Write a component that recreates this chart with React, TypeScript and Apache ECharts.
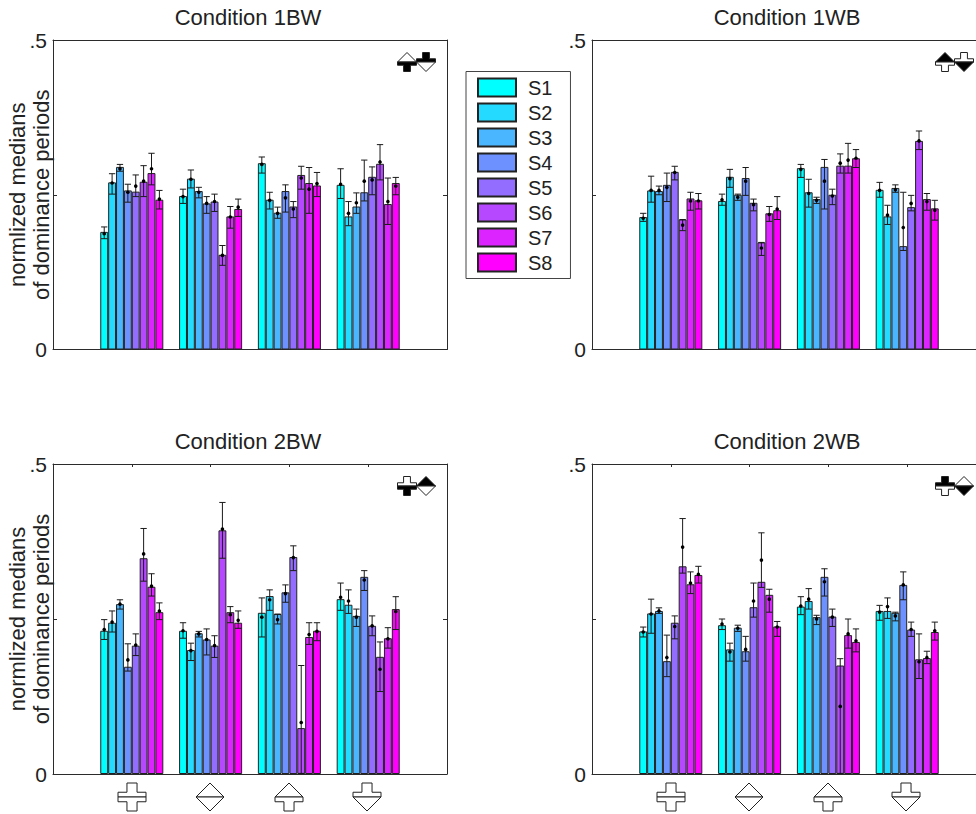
import React, { useEffect, useRef } from "react";
import * as echarts from "echarts";

const subjects = ["S1", "S2", "S3", "S4", "S5", "S6", "S7", "S8"];
const subjectColors = ["#00FFFF", "#24DBFF", "#49B6FF", "#6D92FF", "#926DFF", "#B649FF", "#DB24FF", "#FF00FF"];
const yTickLabels: Record<string, string> = { "0": "0", "0.5": ".5" };
const yLabel = "normlized medians\nof dominance periods";
const titles = ["Condition 1BW", "Condition 1WB", "Condition 2BW", "Condition 2WB"];

// Each table: four stimulus groups, eight subjects
const bars1BW = [
  [0.19, 0.27, 0.295, 0.257, 0.255, 0.271, 0.285, 0.242],
  [0.248, 0.276, 0.256, 0.236, 0.239, 0.153, 0.215, 0.227],
  [0.301, 0.242, 0.221, 0.256, 0.231, 0.282, 0.269, 0.265],
  [0.266, 0.215, 0.231, 0.254, 0.279, 0.3, 0.235, 0.269],
];
const means1BW = [
  [0.187, 0.269, 0.292, 0.254, 0.264, 0.272, 0.292, 0.243],
  [0.247, 0.275, 0.254, 0.236, 0.239, 0.152, 0.214, 0.23],
  [0.299, 0.241, 0.22, 0.245, 0.227, 0.277, 0.259, 0.268],
  [0.267, 0.22, 0.237, 0.272, 0.274, 0.303, 0.239, 0.264],
];
const highs1BW = [
  [0.198, 0.284, 0.299, 0.267, 0.282, 0.297, 0.317, 0.257],
  [0.259, 0.29, 0.262, 0.247, 0.251, 0.168, 0.231, 0.243],
  [0.311, 0.254, 0.23, 0.266, 0.239, 0.296, 0.294, 0.286],
  [0.292, 0.239, 0.253, 0.306, 0.295, 0.331, 0.277, 0.278],
];
const lows1BW = [
  [0.179, 0.251, 0.288, 0.238, 0.247, 0.247, 0.266, 0.227],
  [0.236, 0.261, 0.245, 0.22, 0.223, 0.136, 0.196, 0.215],
  [0.285, 0.227, 0.212, 0.222, 0.213, 0.259, 0.22, 0.247],
  [0.244, 0.2, 0.22, 0.24, 0.25, 0.274, 0.202, 0.25],
];

const bars1WB = [
  [0.214, 0.257, 0.256, 0.266, 0.287, 0.21, 0.244, 0.241],
  [0.24, 0.279, 0.25, 0.277, 0.237, 0.173, 0.22, 0.225],
  [0.293, 0.254, 0.243, 0.295, 0.25, 0.297, 0.297, 0.309],
  [0.258, 0.215, 0.261, 0.167, 0.23, 0.337, 0.243, 0.228],
];
const means1WB = [
  [0.212, 0.257, 0.257, 0.262, 0.286, 0.201, 0.24, 0.24],
  [0.242, 0.276, 0.246, 0.272, 0.234, 0.164, 0.218, 0.227],
  [0.291, 0.252, 0.241, 0.272, 0.248, 0.301, 0.306, 0.309],
  [0.257, 0.217, 0.258, 0.197, 0.236, 0.337, 0.239, 0.225],
];
const highs1WB = [
  [0.22, 0.28, 0.264, 0.285, 0.296, 0.21, 0.254, 0.252],
  [0.251, 0.291, 0.251, 0.294, 0.243, 0.173, 0.231, 0.247],
  [0.299, 0.275, 0.246, 0.307, 0.259, 0.316, 0.333, 0.323],
  [0.27, 0.233, 0.266, 0.254, 0.249, 0.353, 0.252, 0.241],
];
const lows1WB = [
  [0.207, 0.238, 0.25, 0.239, 0.274, 0.192, 0.225, 0.227],
  [0.233, 0.262, 0.241, 0.249, 0.224, 0.152, 0.207, 0.21],
  [0.278, 0.23, 0.236, 0.227, 0.234, 0.285, 0.285, 0.294],
  [0.246, 0.202, 0.254, 0.16, 0.224, 0.323, 0.225, 0.209],
];

const bars2BW = [
  [0.231, 0.244, 0.274, 0.173, 0.207, 0.348, 0.302, 0.261],
  [0.231, 0.2, 0.227, 0.217, 0.207, 0.393, 0.261, 0.244],
  [0.26, 0.287, 0.258, 0.293, 0.35, 0.074, 0.221, 0.231],
  [0.282, 0.273, 0.255, 0.318, 0.239, 0.189, 0.219, 0.266],
];
const means2BW = [
  [0.233, 0.245, 0.274, 0.184, 0.208, 0.355, 0.303, 0.263],
  [0.231, 0.199, 0.226, 0.217, 0.207, 0.395, 0.257, 0.248],
  [0.253, 0.281, 0.249, 0.291, 0.349, 0.083, 0.225, 0.23],
  [0.285, 0.279, 0.253, 0.313, 0.239, 0.169, 0.218, 0.262],
];
const highs2BW = [
  [0.249, 0.263, 0.281, 0.21, 0.226, 0.396, 0.323, 0.276],
  [0.244, 0.211, 0.23, 0.234, 0.223, 0.438, 0.27, 0.263],
  [0.284, 0.297, 0.258, 0.305, 0.368, 0.175, 0.244, 0.244],
  [0.308, 0.297, 0.266, 0.328, 0.255, 0.213, 0.236, 0.286],
];
const lows2BW = [
  [0.217, 0.229, 0.266, 0.166, 0.191, 0.311, 0.287, 0.249],
  [0.219, 0.183, 0.221, 0.192, 0.188, 0.348, 0.244, 0.235],
  [0.221, 0.264, 0.242, 0.277, 0.328, 0.001, 0.209, 0.215],
  [0.264, 0.259, 0.238, 0.296, 0.223, 0.133, 0.203, 0.233],
];

const bars2WB = [
  [0.23, 0.259, 0.263, 0.182, 0.244, 0.335, 0.306, 0.321],
  [0.24, 0.201, 0.236, 0.198, 0.269, 0.31, 0.289, 0.238],
  [0.27, 0.279, 0.253, 0.318, 0.254, 0.175, 0.224, 0.213],
  [0.263, 0.263, 0.26, 0.305, 0.233, 0.185, 0.187, 0.229],
];
const means2WB = [
  [0.229, 0.258, 0.263, 0.188, 0.238, 0.366, 0.308, 0.322],
  [0.242, 0.197, 0.235, 0.201, 0.279, 0.345, 0.282, 0.237],
  [0.271, 0.282, 0.25, 0.31, 0.253, 0.109, 0.226, 0.215],
  [0.261, 0.27, 0.255, 0.305, 0.233, 0.181, 0.188, 0.231],
];
const highs2WB = [
  [0.237, 0.282, 0.268, 0.224, 0.255, 0.412, 0.326, 0.335],
  [0.25, 0.211, 0.24, 0.222, 0.308, 0.389, 0.298, 0.246],
  [0.286, 0.299, 0.256, 0.331, 0.266, 0.186, 0.25, 0.234],
  [0.272, 0.284, 0.261, 0.326, 0.245, 0.226, 0.198, 0.245],
];
const lows2WB = [
  [0.221, 0.227, 0.259, 0.157, 0.218, 0.324, 0.291, 0.308],
  [0.233, 0.182, 0.23, 0.182, 0.253, 0.301, 0.261, 0.222],
  [0.257, 0.266, 0.241, 0.287, 0.238, 0.001, 0.203, 0.197],
  [0.248, 0.251, 0.247, 0.281, 0.222, 0.154, 0.178, 0.216],
];

const panels = [
  { bars: bars1BW, means: means1BW, highs: highs1BW, lows: lows1BW },
  { bars: bars1WB, means: means1WB, highs: highs1WB, lows: lows1WB },
  { bars: bars2BW, means: means2BW, highs: highs2BW, lows: lows2BW },
  { bars: bars2WB, means: means2WB, highs: highs2WB, lows: lows2WB },
];

const FONT = "Liberation Sans";
const INK = "#2b2b2b";
const grids = [
  { left: 53, top: 40, width: 394, height: 309.5 },
  { left: 592, top: 40, width: 394, height: 309.5 },
  { left: 53, top: 464, width: 394, height: 310 },
  { left: 592, top: 464, width: 394, height: 310 },
];

type Half = "cross" | "diamond";

function halfPoints(kind: Half, dir: number, r: number) {
  if (kind === "diamond") return [[-r, 0], [0, dir * r], [r, 0]];
  const arm = r * 0.34;
  const stem = r * 0.36;
  return [
    [-r, 0], [-r, dir * arm], [-stem, dir * arm], [-stem, dir * r],
    [stem, dir * r], [stem, dir * arm], [r, dir * arm], [r, 0],
  ];
}

function glyph(x: number, y: number, r: number, top: Half, bottom: Half, topFill: string, bottomFill: string) {
  const stroke = { stroke: "#222", lineWidth: 1 };
  return {
    type: "group",
    x,
    y,
    silent: true,
    children: [
      { type: "polygon", shape: { points: halfPoints(top, -1, r) }, style: { fill: topFill, ...stroke } },
      { type: "polygon", shape: { points: halfPoints(bottom, 1, r) }, style: { fill: bottomFill, ...stroke } },
    ],
  };
}

const W = "#ffffff";
const K = "#000000";

function buildOption() {
  const xAxis: any[] = [];
  const yAxis: any[] = [];
  const series: any[] = [];
  const title: any[] = [];

  grids.forEach((g, p) => {
    title.push({
      text: titles[p],
      left: g.left + 190,
      top: p >= 2 ? 425 : 1,
      textAlign: "center",
      textStyle: { fontFamily: FONT, fontSize: 22, fontWeight: "normal", color: "#222" },
    });
    const xBase = xAxis.length;
    const yBase = yAxis.length;
    xAxis.push({
      type: "value",
      gridIndex: p,
      min: 0,
      max: 5,
      interval: 1,
      splitLine: { show: false },
      axisTick: { show: false },
      axisLabel: { show: false },
      axisLine: { show: true, onZero: false, lineStyle: { color: INK, width: 1 } },
    });
    yAxis.push({
      type: "value",
      gridIndex: p,
      min: 0,
      max: 0.5,
      interval: 0.25,
      splitLine: { show: false },
      axisLine: { show: true, onZero: false, lineStyle: { color: INK, width: 1 } },
      axisTick: { show: true, inside: true, length: 4, lineStyle: { color: INK } },
      axisLabel: {
        margin: 6,
        fontFamily: FONT,
        fontSize: 21,
        color: "#222",
        formatter: (v: number) => yTickLabels[String(v)] ?? "",
      },
      ...(p % 2 === 0
        ? {
            name: yLabel,
            nameLocation: "middle",
            nameRotate: 90,
            nameGap: 0,
            nameMoveOverlap: false,
            nameTextStyle: { fontFamily: FONT, fontSize: 22, color: "#222", lineHeight: 24 },
          }
        : {}),
    });
    yAxis.push({
      type: "value",
      gridIndex: p,
      position: "right",
      min: 0,
      max: 0.5,
      interval: 0.25,
      splitLine: { show: false },
      axisLine: { show: true, onZero: false, lineStyle: { color: INK, width: 1 } },
      axisTick: { show: true, inside: true, length: 4, lineStyle: { color: INK } },
      axisLabel: { show: false },
    });
    xAxis.push({
      type: "value",
      gridIndex: p,
      position: "top",
      min: 0,
      max: 5,
      interval: 1,
      splitLine: { show: false },
      axisLine: { show: true, onZero: false, lineStyle: { color: INK, width: 1 } },
      axisTick: { show: p >= 2, inside: true, length: 3, lineStyle: { color: INK } },
      axisLabel: { show: false },
    });

    const t = panels[p];
    subjects.forEach((name, s) => {
      series.push({
        type: "bar",
        name,
        xAxisIndex: xBase,
        yAxisIndex: yBase,
        barWidth: "10%",
        barGap: 0,
        itemStyle: { color: subjectColors[s], borderColor: "#222", borderWidth: 1 },
        data: t.bars.map((row, i) => [i + 1, row[s]]),
      });
    });

    const errData: number[][] = [];
    t.means.forEach((row, i) =>
      row.forEach((m, s) => errData.push([i + 1, s, m, t.lows[i][s], t.highs[i][s]])),
    );
    series.push({
      type: "custom",
      name: "error bars",
      xAxisIndex: xBase,
      yAxisIndex: yBase,
      z: 5,
      clip: false,
      encode: { x: 0, y: 2 },
      data: errData,
      renderItem: (_: any, api: any) => {
        const x = api.value(0) + (api.value(1) - 3.5) * 0.1;
        const m = api.coord([x, api.value(2)]);
        const lo = api.coord([x, api.value(3)]);
        const hi = api.coord([x, api.value(4)]);
        const cap = api.size([0.04, 0])[0];
        const st = { stroke: "#1a1a1a", lineWidth: 1, fill: "none" };
        return {
          type: "group",
          children: [
            { type: "line", shape: { x1: m[0], y1: lo[1], x2: m[0], y2: hi[1] }, style: st },
            { type: "line", shape: { x1: m[0] - cap, y1: lo[1], x2: m[0] + cap, y2: lo[1] }, style: st },
            { type: "line", shape: { x1: m[0] - cap, y1: hi[1], x2: m[0] + cap, y2: hi[1] }, style: st },
            { type: "circle", shape: { cx: m[0], cy: m[1], r: 1.8 }, style: { fill: "#000" } },
          ],
        };
      },
    });
  });

  const graphicElements: any[] = [
    glyph(407, 62, 9.5, "diamond", "cross", W, K),
    glyph(426, 62, 9.5, "cross", "diamond", K, W),
    glyph(945, 62, 9.5, "diamond", "cross", K, W),
    glyph(964, 62, 9.5, "cross", "diamond", W, K),
    glyph(407, 486, 9.5, "cross", "cross", W, K),
    glyph(426, 486, 9.5, "diamond", "diamond", K, W),
    glyph(945, 486, 9.5, "cross", "cross", K, W),
    glyph(964, 486, 9.5, "diamond", "diamond", W, K),
  ];
  [[132, 210, 289, 367], [671, 749, 828, 906]].forEach((xs) => {
    graphicElements.push(glyph(xs[0], 797, 14, "cross", "cross", W, W));
    graphicElements.push(glyph(xs[1], 797, 14, "diamond", "diamond", W, W));
    graphicElements.push(glyph(xs[2], 797, 14, "diamond", "cross", W, W));
    graphicElements.push(glyph(xs[3], 797, 14, "cross", "diamond", W, W));
  });

  return {
    animation: false,
    backgroundColor: "#ffffff",
    title,
    grid: grids.map((g) => ({ ...g, show: false, containLabel: false, outerBoundsMode: "none" })),
    xAxis,
    yAxis,
    series,
    legend: {
      data: subjects,
      orient: "vertical",
      left: 466,
      top: 71.5,
      padding: [6, 18, 6, 11],
      itemWidth: 38,
      itemHeight: 18,
      itemGap: 5,
      icon: "rect",
      borderColor: "#444",
      borderWidth: 1,
      backgroundColor: "#ffffff",
      selectedMode: false,
      textStyle: { fontFamily: FONT, fontSize: 20, color: "#222", lineHeight: 18, padding: [0, 0, 0, 7] },
    },
    graphic: { elements: graphicElements },
  };
}

export default function App() {
  const ref = useRef<HTMLDivElement>(null);
  useEffect(() => {
    document.body.style.margin = "0";
    document.body.style.overflow = "hidden";
    const chart = echarts.init(ref.current!, undefined, { renderer: "svg" });
    chart.setOption(buildOption() as any);
    return () => chart.dispose();
  }, []);
  return <div ref={ref} style={{ width: 976, height: 814 }} />;
}
